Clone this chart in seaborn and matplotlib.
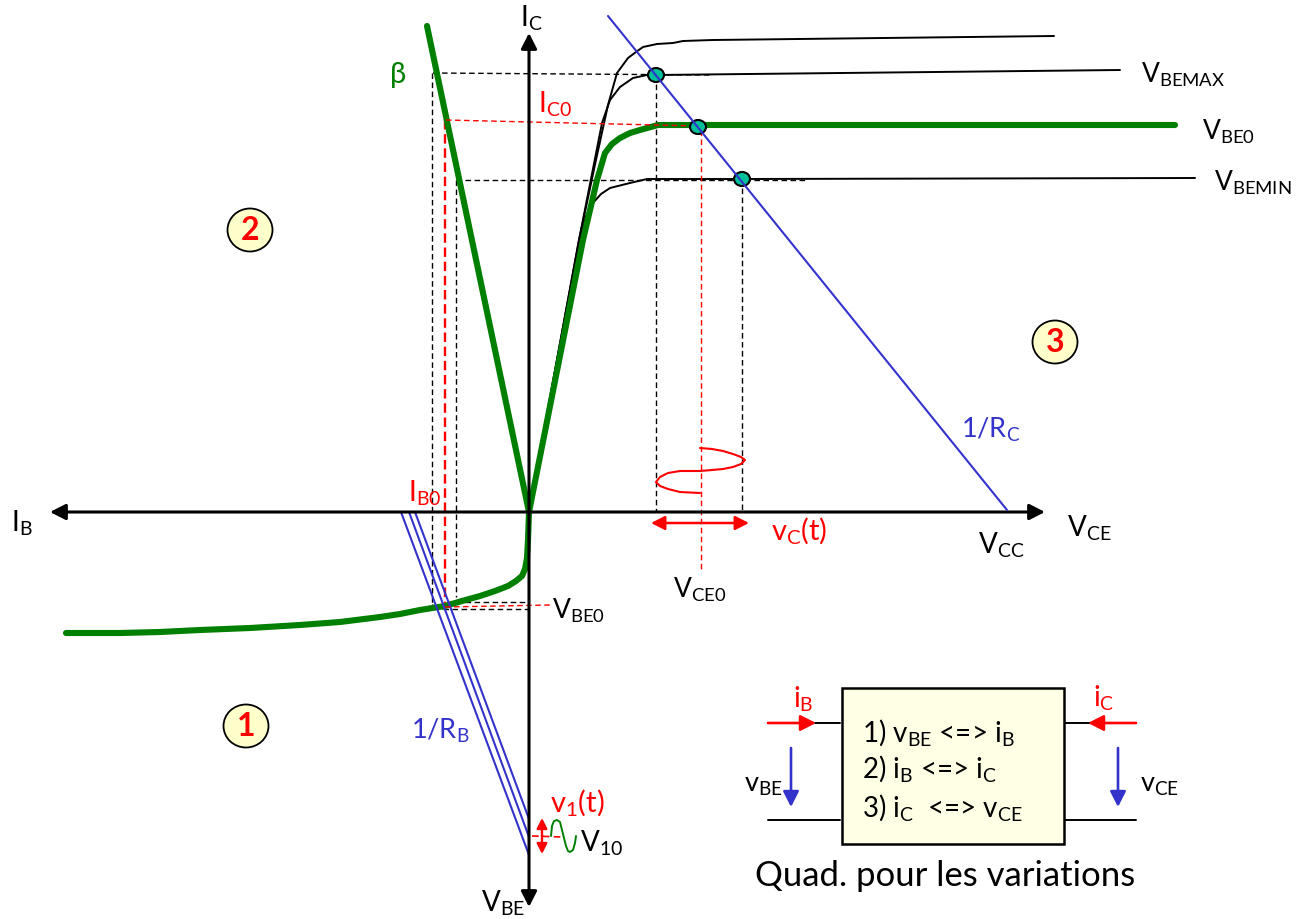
#!/usr/bin/env python3
# -*- coding: utf-8 -*-
import matplotlib
matplotlib.use("Agg")
import matplotlib.pyplot as plt
from matplotlib.patches import Ellipse, Rectangle
import seaborn as sns

GREEN = "#007F00"
RED = "#FF0000"
BLUE = "#3333CC"
BLACK = "#000000"
YELLOW = "#FFFFCC"
TEAL = "#00C09A"

# output characteristics, quadrant 3
vbe_top_x = [529, 579, 596, 608, 617, 628, 636, 643, 657, 673, 683, 713, 1054]
vbe_top_y = [512, 240, 160, 105, 73, 58, 52, 47, 44, 43, 41, 40, 36]
vbe_max_x = [529, 579, 602, 610, 620, 633, 647, 656, 1120]
vbe_max_y = [512, 240, 123, 100, 87, 78, 75, 75, 70]
vbe_0_x = [529, 583, 597, 605, 612, 620, 630, 640, 658, 698, 1175]
vbe_0_y = [512, 240, 180, 153, 144, 138, 133, 130, 125, 125, 125]
vbe_min_x = [529, 580, 586, 593, 601, 610, 630, 647, 742, 1195]
vbe_min_y = [512, 240, 216, 203, 194, 188, 183, 179, 179, 178]
load_x = [608, 1007]
load_y = [16, 510]
op_x = [656, 698, 742]
op_y = [75, 127, 179]

# quadrant 2 and 1
beta_x = [427, 529]
beta_y = [26, 512]
input_x = [529, 528, 527, 525, 522, 516, 508, 495, 480, 462, 445, 420, 400, 380, 340, 300,
           250, 200, 160, 120, 90, 66]
input_y = [512, 540, 558, 569, 576, 581, 586, 591, 596, 601, 606, 610, 614, 617, 622, 625,
           628, 630, 632, 633, 633, 633]
rb_top_x = [401, 409, 415]
rb_bottom_y = [855, 837, 819]

# dashed projections: x0, y0, x1, y1
black_dash = [(433, 73, 710, 75), (456, 180, 805, 180), (432, 73, 432, 605),
              (456, 180, 456, 597), (656, 75, 656, 512), (742, 179, 742, 512),
              (447, 602, 528, 602), (443, 609, 528, 609), (432, 605, 443, 609)]
red_dash_thin = [(446, 120, 698, 126), (701, 130, 701, 570), (445, 607, 550, 605)]
red_dash_thick = [(445, 120, 445, 608)]

# signals
vc_x = [700, 712, 723, 733, 741, 745, 741, 733, 723, 712, 700, 680, 668, 660, 656, 660, 668, 680, 700]
vc_y = [448, 449, 451, 454, 457, 460, 464, 467, 469, 470, 471, 471, 473, 477, 482, 486, 489, 492, 493]
v1_x = [551, 552, 554, 557, 560, 562, 564, 566, 568, 570, 573, 575, 576]
v1_y = [836, 826, 821, 820, 822, 830, 838, 846, 851, 852, 850, 843, 836]

# quad box wires
wire_black = [(815, 723, 840, 723), (1065, 723, 1090, 723), (768, 820, 840, 820), (1065, 820, 1136, 820)]

quad_x = [250, 1055, 246]
quad_y = [230, 342, 726]
quad_labels = ["2", "3", "1"]

# label, x, y, colour, size
labels = [
    ("I$_{\\mathrm{C}}$", 531, 18, BLACK, 20),
    ("I$_{\\mathrm{B}}$", 22, 523, BLACK, 20),
    ("V$_{\\mathrm{CE}}$", 1089, 528, BLACK, 20),
    ("V$_{\\mathrm{CC}}$", 1001, 545, BLACK, 20),
    ("V$_{\\mathrm{BE}}$", 503, 903, BLACK, 20),
    ("V$_{\\mathrm{BEMAX}}$", 1183, 75, BLACK, 19),
    ("V$_{\\mathrm{BE0}}$", 1228, 132, BLACK, 19),
    ("V$_{\\mathrm{BEMIN}}$", 1253, 183, BLACK, 19),
    ("V$_{\\mathrm{BE0}}$", 578, 611, BLACK, 19),
    ("V$_{\\mathrm{CE0}}$", 700, 590, BLACK, 19),
    ("V$_{\\mathrm{10}}$", 602, 843, BLACK, 20),
    ("β", 398, 75, GREEN, 21),
    ("I$_{\\mathrm{C0}}$", 555, 104, RED, 20),
    ("I$_{\\mathrm{B0}}$", 425, 493, RED, 20),
    ("v$_{\\mathrm{C}}$(t)", 799, 531, RED, 21),
    ("v$_{\\mathrm{1}}$(t)", 577, 803, RED, 21),
    ("1/R$_{\\mathrm{C}}$", 991, 430, BLUE, 19.5),
    ("1/R$_{\\mathrm{B}}$", 440, 731, BLUE, 19.5),
    ("i$_{\\mathrm{B}}$", 803, 699, RED, 20),
    ("i$_{\\mathrm{C}}$", 1104, 698, RED, 20),
    ("v$_{\\mathrm{BE}}$", 763, 785, BLACK, 19.5),
    ("v$_{\\mathrm{CE}}$", 1160, 786, BLACK, 19.5),
]
box_lines = ["1) v$_{\\mathrm{BE}}$ <=> i$_{\\mathrm{B}}$",
             "2) i$_{\\mathrm{B}}$ <=> i$_{\\mathrm{C}}$",
             "3) i$_{\\mathrm{C}}$  <=> v$_{\\mathrm{CE}}$"]
box_y = [733, 769, 808]
caption = "Quad. pour les variations"

sns.set_theme(style="white")
plt.rcParams["font.family"] = ["Lato", "DejaVu Sans"]
plt.rcParams["mathtext.fontset"] = "custom"
plt.rcParams["mathtext.rm"] = "Lato"

fig = plt.figure(figsize=(12.97, 9.19), dpi=100)
ax = fig.add_axes([0, 0, 1, 1])


def draw(x, y, color=BLACK, lw=1.4, ls="-", zorder=3):
    sns.lineplot(x=x, y=y, sort=False, estimator=None, errorbar=None, color=color,
                 linewidth=lw, linestyle=ls, legend=False, ax=ax, zorder=zorder)


def arrow(x0, y0, x1, y1, color, lw=1.5, head=1.0, both=False):
    style = "<|-|>" if both else "-|>"
    ax.annotate("", xy=(x1, y1), xytext=(x0, y0), zorder=6,
                arrowprops=dict(arrowstyle=f"{style},head_length={0.55 * head},head_width={0.28 * head}",
                                color=color, lw=lw, shrinkA=0, shrinkB=0, mutation_scale=20))


# axes
arrow(529, 512, 1045, 512, BLACK, lw=2.2, head=0.85)
arrow(529, 512, 50, 512, BLACK, lw=2.2, head=0.85)
arrow(529, 512, 529, 33, BLACK, lw=2.2, head=0.85)
arrow(529, 512, 529, 907, BLACK, lw=2.2, head=0.85)

# projections
for x0, y0, x1, y1 in black_dash:
    draw([x0, x1], [y0, y1], lw=1.0, ls=(0, (4, 2.5)), zorder=2)
for x0, y0, x1, y1 in red_dash_thin:
    draw([x0, x1], [y0, y1], color=RED, lw=1.0, ls=(0, (4, 2.5)), zorder=4)
for x0, y0, x1, y1 in red_dash_thick:
    draw([x0, x1], [y0, y1], color=RED, lw=1.7, ls=(0, (4, 2)), zorder=2)

# curves
draw(vbe_top_x, vbe_top_y)
draw(vbe_max_x, vbe_max_y)
draw(vbe_min_x, vbe_min_y)
draw(vbe_0_x, vbe_0_y, color=GREEN, lw=4.4)
draw(beta_x, beta_y, color=GREEN, lw=4.4)
draw(input_x, input_y, color=GREEN, lw=4.4)
draw(load_x, load_y, color=BLUE, lw=1.5, zorder=7)
for top, bottom in zip(rb_top_x, rb_bottom_y):
    draw([top, 529], [512, bottom], color=BLUE, lw=1.5)

for x, y in zip(op_x, op_y):
    ax.add_patch(Ellipse((x, y), 16, 14, facecolor=TEAL, edgecolor=BLACK, lw=1.5, zorder=6))

# signals
draw(vc_x, vc_y, color=RED, lw=1.5)
draw(v1_x, v1_y, color=GREEN, lw=1.4)
draw([532, 563], [836, 837], color=RED, lw=1.2, ls=(0, (4, 2.5)))
arrow(542, 836, 542, 854, RED, lw=1.7, head=0.55)
arrow(542, 836, 542, 818, RED, lw=1.7, head=0.55)
arrow(651, 523, 749, 523, RED, lw=1.8, head=0.75, both=True)

# quadrant badges
for x, y, label in zip(quad_x, quad_y, quad_labels):
    ax.add_patch(Ellipse((x, y), 45, 43, facecolor=YELLOW, edgecolor=BLACK, lw=1.3, zorder=5))
    ax.text(x, y, label, color=RED, fontsize=23, fontweight="bold", ha="center", va="center", zorder=8)

# quad box
ax.add_patch(Rectangle((842, 688), 222, 156, facecolor="#FFFFE6", edgecolor=BLACK, lw=1.8, zorder=3))
for x0, y0, x1, y1 in wire_black:
    draw([x0, x1], [y0, y1], lw=1.4)
arrow(768, 723, 816, 723, RED, lw=1.9, head=0.85)
arrow(1136, 723, 1088, 723, RED, lw=1.9, head=0.85)
arrow(791, 748, 791, 807, BLUE, lw=1.9, head=0.85)
arrow(1118, 748, 1118, 807, BLUE, lw=1.9, head=0.85)
for text, y in zip(box_lines, box_y):
    ax.text(862, y, text, color=BLACK, fontsize=20, ha="left", va="center", zorder=8)

for text, x, y, color, size in labels:
    ax.text(x, y, text, color=color, fontsize=size, ha="center", va="center", zorder=8)
ax.text(945, 876, caption, color=BLACK, fontsize=25, ha="center", va="center", zorder=8)

ax.set_xlim(0, 1297)
ax.set_ylim(919, 0)
ax.axis("off")
plt.savefig("out.png", dpi=100)
